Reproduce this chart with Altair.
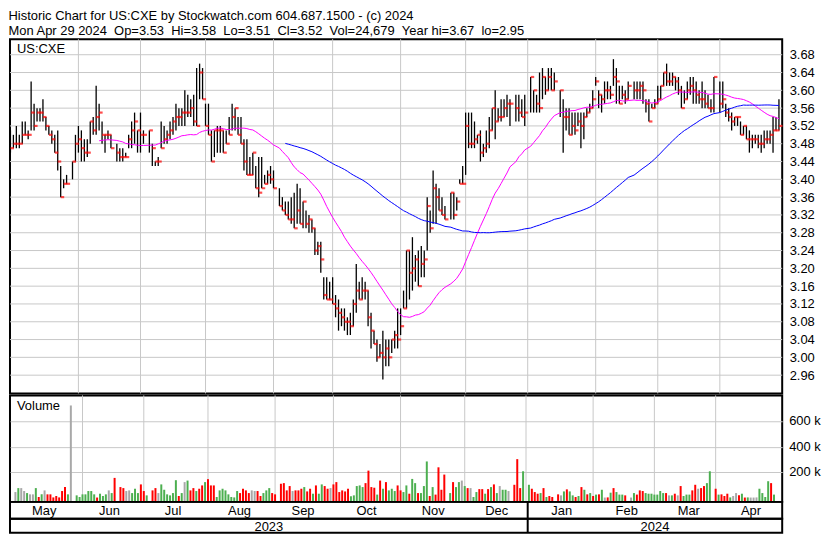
import altair as alt
import pandas as pd

# ---------------- data ----------------
HOLIDAYS = ["2023-05-29", "2023-06-19", "2023-07-04", "2023-09-04", "2023-11-23",
            "2023-12-25", "2024-01-01", "2024-01-15", "2024-02-19", "2024-03-29"]

may_hi = [3.51,3.50,3.52,3.50,3.53,3.53,3.51,3.62,3.57,3.56,3.56,3.58,3.54,3.52,3.51,3.50,3.51,3.43,3.40,3.41,3.44,3.50]
may_lo = [3.46,3.47,3.47,3.47,3.48,3.50,3.49,3.51,3.51,3.53,3.53,3.53,3.51,3.50,3.48,3.46,3.42,3.36,3.38,3.39,3.40,3.44]
may_cl = [3.47,3.48,3.48,3.48,3.50,3.50,3.50,3.55,3.52,3.55,3.55,3.54,3.52,3.50,3.49,3.46,3.44,3.36,3.39,3.39,3.44,3.48]
may_vol = [45,76,76,53,37,27,27,76,6,27,58,27,27,3,14,3,53,84,27,724,19,6]

jun_hi = [3.52,3.51,3.49,3.49,3.53,3.54,3.61,3.57,3.53,3.50,3.51,3.50,3.48,3.47,3.47,3.46,3.50,3.53,3.55,3.51,3.55]
jun_lo = [3.46,3.44,3.44,3.45,3.48,3.50,3.50,3.51,3.48,3.46,3.49,3.47,3.44,3.44,3.44,3.45,3.47,3.47,3.48,3.46,3.46]
jun_cl = [3.49,3.47,3.46,3.46,3.53,3.51,3.54,3.55,3.50,3.50,3.50,3.47,3.46,3.45,3.45,3.45,3.49,3.51,3.53,3.51,3.50]
jun_vol = [27,27,53,53,27,2,32,14,27,58,37,156,84,76,53,58,37,71,37,105,53]

jul_hi = [3.51,3.51,3.48,3.44,3.45,3.53,3.52,3.51,3.53,3.54,3.57,3.56,3.56,3.60,3.59,3.58,3.59,3.65,3.66,3.65]
jul_lo = [3.48,3.46,3.43,3.43,3.43,3.47,3.48,3.48,3.49,3.50,3.51,3.52,3.52,3.52,3.54,3.54,3.52,3.52,3.58,3.58]
jul_cl = [3.50,3.51,3.47,3.44,3.44,3.47,3.49,3.50,3.51,3.53,3.54,3.54,3.55,3.55,3.55,3.56,3.53,3.52,3.64,3.58]
jul_vol = [19,58,76,37,105,63,27,19,37,138,14,37,123,135,58,76,53,71,97,123]

aug_hi = [3.57,3.57,3.51,3.51,3.52,3.52,3.51,3.51,3.54,3.57,3.56,3.54,3.54,3.49,3.49,3.45,3.46,3.43,3.45,3.45,3.41,3.42,3.43]
aug_lo = [3.52,3.50,3.44,3.45,3.46,3.46,3.46,3.48,3.50,3.51,3.51,3.50,3.48,3.42,3.41,3.41,3.41,3.38,3.36,3.38,3.39,3.39,3.39]
aug_cl = [3.52,3.50,3.44,3.51,3.51,3.51,3.46,3.48,3.50,3.54,3.56,3.50,3.48,3.44,3.41,3.41,3.46,3.38,3.37,3.38,3.39,3.41,3.40]
aug_vol = [146,97,97,6,58,71,58,27,6,3,53,37,71,58,37,58,53,53,14,37,58,76,37]

sep_hi = [3.42,3.38,3.36,3.35,3.35,3.36,3.37,3.39,3.38,3.35,3.33,3.32,3.31,3.29,3.26,3.26,3.18,3.18,3.17,3.18]
sep_lo = [3.38,3.34,3.33,3.32,3.31,3.30,3.29,3.30,3.30,3.29,3.29,3.28,3.28,3.23,3.23,3.19,3.13,3.13,3.13,3.12]
sep_cl = [3.38,3.34,3.33,3.32,3.31,3.31,3.29,3.33,3.30,3.35,3.30,3.31,3.29,3.24,3.25,3.22,3.14,3.13,3.13,3.12]
sep_vol = [27,110,115,58,92,53,58,58,71,84,50,71,32,97,32,105,92,71,76,105]

oct_hi = [3.14,3.13,3.11,3.11,3.09,3.10,3.13,3.21,3.17,3.18,3.17,3.15,3.10,3.06,3.04,3.03,3.06,3.04,3.04,3.04,3.06,3.11]
oct_lo = [3.09,3.06,3.07,3.06,3.05,3.05,3.07,3.10,3.13,3.13,3.13,3.07,3.02,3.03,2.99,3.00,2.95,2.98,2.98,3.01,3.02,3.02]
oct_cl = [3.11,3.10,3.09,3.08,3.08,3.07,3.12,3.15,3.13,3.15,3.15,3.09,3.06,3.03,3.00,3.01,3.00,3.02,3.00,3.04,3.05,3.04]
oct_vol = [123,45,58,50,71,12,19,92,97,84,115,213,84,79,25,135,71,123,58,71,53,97]

nov_hi = [3.11,3.15,3.24,3.24,3.27,3.23,3.24,3.25,3.24,3.36,3.33,3.42,3.39,3.38,3.36,3.34,3.37,3.37,3.36,3.40,3.43]
nov_lo = [3.05,3.11,3.11,3.13,3.15,3.17,3.16,3.18,3.18,3.24,3.28,3.30,3.30,3.33,3.32,3.31,3.31,3.31,3.33,3.39,3.39]
nov_cl = [3.07,3.11,3.24,3.19,3.20,3.22,3.16,3.21,3.22,3.34,3.29,3.38,3.36,3.33,3.32,3.31,3.37,3.32,3.35,3.39,3.39]
nov_vol = [58,45,97,32,148,115,37,37,92,285,14,84,25,239,63,182,37,123,84,123,135]

dec_hi = [3.55,3.55,3.55,3.53,3.50,3.51,3.48,3.51,3.54,3.56,3.60,3.56,3.58,3.58,3.59,3.58,3.59,3.59,3.58,3.59]
dec_lo = [3.41,3.47,3.47,3.47,3.48,3.44,3.45,3.46,3.47,3.51,3.49,3.53,3.53,3.54,3.54,3.52,3.53,3.53,3.54,3.52]
dec_cl = [3.52,3.48,3.48,3.49,3.50,3.46,3.47,3.48,3.51,3.56,3.53,3.54,3.54,3.56,3.57,3.57,3.56,3.55,3.54,3.55]
dec_vol = [92,76,76,6,45,68,68,32,68,84,105,37,92,63,63,53,102,303,76,208]

jan_hi = [3.63,3.60,3.59,3.64,3.65,3.63,3.65,3.65,3.64,3.60,3.58,3.56,3.56,3.55,3.55,3.55,3.55,3.55,3.56,3.57,3.60]
jan_lo = [3.55,3.55,3.55,3.55,3.58,3.59,3.60,3.60,3.60,3.54,3.46,3.51,3.50,3.50,3.50,3.52,3.47,3.49,3.54,3.55,3.56]
jan_cl = [3.63,3.60,3.57,3.56,3.63,3.60,3.63,3.60,3.62,3.60,3.54,3.54,3.50,3.52,3.51,3.53,3.52,3.54,3.55,3.56,3.58]
jan_vol = [102,71,45,32,37,76,6,14,6,27,19,50,66,50,19,6,14,84,63,27,37]

feb_hi = [3.63,3.60,3.59,3.62,3.62,3.61,3.67,3.65,3.61,3.61,3.60,3.62,3.62,3.62,3.62,3.62,3.58,3.58,3.57,3.58]
feb_lo = [3.61,3.56,3.55,3.57,3.58,3.58,3.61,3.57,3.57,3.58,3.57,3.58,3.58,3.58,3.58,3.57,3.55,3.53,3.56,3.56]
feb_cl = [3.62,3.59,3.58,3.60,3.60,3.59,3.63,3.62,3.57,3.59,3.58,3.61,3.60,3.60,3.61,3.60,3.57,3.53,3.56,3.57]
feb_vol = [14,25,27,63,2,3,40,76,45,25,25,19,2,37,25,58,53,37,32,32]

mar_hi = [3.61,3.61,3.64,3.66,3.64,3.64,3.63,3.63,3.61,3.60,3.62,3.63,3.63,3.62,3.60,3.62,3.60,3.59,3.58,3.63]
mar_lo = [3.57,3.58,3.61,3.61,3.61,3.61,3.60,3.59,3.56,3.57,3.58,3.59,3.57,3.57,3.57,3.56,3.56,3.56,3.55,3.55]
mar_cl = [3.58,3.61,3.64,3.62,3.62,3.63,3.62,3.60,3.56,3.58,3.60,3.61,3.60,3.59,3.58,3.58,3.57,3.56,3.56,3.63]
mar_vol = [25,25,53,37,37,19,19,32,19,92,14,25,25,58,102,71,76,92,115,208]

apr_hi = [3.62,3.62,3.57,3.56,3.55,3.54,3.54,3.53,3.52,3.52,3.51,3.50,3.50,3.50,3.50,3.51,3.51,3.51,3.54,3.54,3.58]
apr_lo = [3.55,3.56,3.54,3.53,3.51,3.52,3.52,3.50,3.50,3.49,3.46,3.47,3.48,3.47,3.46,3.47,3.48,3.48,3.46,3.51,3.51]
apr_cl = [3.57,3.58,3.55,3.54,3.53,3.54,3.54,3.50,3.52,3.49,3.49,3.49,3.49,3.48,3.48,3.49,3.49,3.50,3.51,3.51,3.52]
apr_vol = [71,25,27,14,32,3,14,37,19,32,2,3,2,2,3,71,37,6,130,115,25]

# day direction shown by the volume colour: u = up, d = down, n = unchanged
DIRECTION_BY_MONTH = [
    "nunnunnudundddddddunuu",
    "uuuuuduuunudddnnuuudd",
    "uddnuuuuuudunudduddu",
    "ddduuuuuuuuddddnndduuud",
    "dddddndddudduduuddnd",
    "ddddduuuuuddddududuuud",
    "duuduuduuududdddudu" + "un",
    "udnuuddududunuundddu",
    "udddududddnuduududud" + "u",
    "dudunduduuudnuddduuu",
    "uuuudnudnduuuddndduu",
    "dudddunndudunnnuuuudu",
]

PRICE_TICKS = [2.96, 3.00, 3.04, 3.08, 3.12, 3.16, 3.20, 3.24, 3.28, 3.32,
               3.36, 3.40, 3.44, 3.48, 3.52, 3.56, 3.60, 3.64, 3.68]
VOL_TICKS = [200000, 400000, 600000]
VOL_LABELS = ["200 k", "400 k", "600 k"]
MONTH_NAMES = ["May", "Jun", "Jul", "Aug", "Sep", "Oct", "Nov", "Dec", "Jan", "Feb", "Mar", "Apr"]
YEAR_NAMES = ["2023", "2024"]

TITLE1 = "Historic Chart for US:CXE by Stockwatch.com 604.687.1500 - (c) 2024"
TITLE2 = ("Mon Apr 29 2024\u00a0\u00a0Op=3.53\u00a0\u00a0Hi=3.58\u00a0\u00a0Lo=3.51\u00a0\u00a0"
          "Cl=3.52\u00a0\u00a0Vol=24,679\u00a0\u00a0Year hi=3.67\u00a0\u00a0lo=2.95")

# ---------------- build tables ----------------
hi = may_hi + jun_hi + jul_hi + aug_hi + sep_hi + oct_hi + nov_hi + dec_hi + jan_hi + feb_hi + mar_hi + apr_hi
lo = may_lo + jun_lo + jul_lo + aug_lo + sep_lo + oct_lo + nov_lo + dec_lo + jan_lo + feb_lo + mar_lo + apr_lo
cl = may_cl + jun_cl + jul_cl + aug_cl + sep_cl + oct_cl + nov_cl + dec_cl + jan_cl + feb_cl + mar_cl + apr_cl
vol = may_vol + jun_vol + jul_vol + aug_vol + sep_vol + oct_vol + nov_vol + dec_vol + jan_vol + feb_vol + mar_vol + apr_vol
direction = list("".join(DIRECTION_BY_MONTH))

weekdays = pd.bdate_range("2023-05-01", "2024-04-29")
hol = set(pd.to_datetime(HOLIDAYS))
trading = [d for d in weekdays if d not in hol]
slot_of = {d: i for i, d in enumerate(weekdays)}

n = min(len(trading), len(hi), len(lo), len(cl), len(vol))
direction = (direction + ["n"] * n)[:n]
df = pd.DataFrame({
    "slot": [slot_of[d] for d in trading[:n]],
    "hi": hi[:n], "lo": lo[:n], "cl": cl[:n],
    "vol": [v * 1000 for v in vol[:n]],
    "dir": direction,
})

X0, X1 = -0.15, 261.1
month_starts = pd.date_range("2023-06-01", "2024-04-01", freq="MS")
grid_slots = [int((weekdays <= m).sum()) - 1 for m in month_starts]
grid_df = pd.DataFrame({"slot": grid_slots})
bounds = [X0] + grid_slots + [X1]
month_df = pd.DataFrame({"name": MONTH_NAMES,
                         "mid": [(a + b) / 2 for a, b in zip(bounds[:-1], bounds[1:])]})
jan_slot = grid_slots[7]
year_df = pd.DataFrame({"name": YEAR_NAMES, "mid": [(X0 + jan_slot) / 2, (jan_slot + X1) / 2]})
yearline_df = pd.DataFrame({"slot": [jan_slot]})
ptick_df = pd.DataFrame({"p": PRICE_TICKS})
vtick_df = pd.DataFrame({"v": VOL_TICKS, "label": VOL_LABELS})

# ---------------- chart ----------------
W = 776
PH, VH, MH, YH = 356, 107, 17, 14
FONT = "Liberation Sans"
GRID = "#c8c8c8"

xs = alt.Scale(domain=[X0, X1], nice=False, zero=False)
ys = alt.Scale(domain=[2.919, 3.715], nice=False, zero=False)
vs = alt.Scale(domain=[-32000, 803000], nice=False, zero=False)
X = alt.X("slot:Q", scale=xs, axis=None)
PAX = alt.Axis(orient="right", values=PRICE_TICKS, format=".2f", grid=False, labelOverlap=False,
               domain=False, ticks=False, labelPadding=7, title=None)
VAX = alt.Axis(orient="right", values=VOL_TICKS, labels=False, grid=True, gridColor=GRID,
               gridOpacity=1, domain=False, ticks=False, title=None)

month_rules = alt.Chart(grid_df).mark_rule(color=GRID, strokeWidth=1).encode(x=X)
price_grid = alt.Chart(ptick_df).mark_rule(color=GRID, strokeWidth=1).encode(
    y=alt.Y("p:Q", scale=ys, axis=PAX))

base = alt.Chart(df)
hl = base.mark_rule(color="black", strokeWidth=1.3).encode(
    x=X, y=alt.Y("lo:Q", scale=ys, axis=PAX), y2="hi:Q")
closes = base.mark_tick(orient="horizontal", color="#ff0000", size=3.5, thickness=2.2, xOffset=1.8).encode(
    x=X, y=alt.Y("cl:Q", scale=ys, axis=PAX))
ma30 = base.transform_window(ma="mean(cl)", cnt="count()", frame=[-29, 0],
                             sort=[alt.SortField("slot")]).transform_filter(
    "datum.cnt >= 30").mark_line(color="#ff00ff", strokeWidth=1).encode(
    x=X, y=alt.Y("ma:Q", scale=ys, axis=PAX))
ma90 = base.transform_window(ma="mean(cl)", cnt="count()", frame=[-89, 0],
                             sort=[alt.SortField("slot")]).transform_filter(
    "datum.cnt >= 90").mark_line(color="#0000ff", strokeWidth=1).encode(
    x=X, y=alt.Y("ma:Q", scale=ys, axis=PAX))
sym = alt.Chart(pd.DataFrame({"t": ["US:CXE"]})).mark_text(
    align="left", baseline="middle", fontSize=13, font=FONT, color="black").encode(
    x=alt.value(7), y=alt.value(10), text="t:N")

price = alt.layer(price_grid, month_rules, hl, closes, ma30, ma90, sym).properties(width=W, height=PH)

# volume panel: grid lines come from the bar layer's axis, labels from a text layer
vbars = base.mark_bar(width=2).encode(
    x=X,
    y=alt.Y("vol:Q", scale=vs, axis=VAX, stack=None),
    y2=alt.value(VH),
    color=alt.Color("dir:N", legend=None,
                    scale=alt.Scale(domain=["u", "d", "n"], range=["#4caf50", "#ff0000", "#a8a8a8"])),
)
vol_labels = alt.Chart(vtick_df).mark_text(
    align="left", baseline="middle", fontSize=13, font=FONT, color="black").encode(
    x=alt.value(W + 7), y=alt.Y("v:Q", scale=vs, axis=VAX), text="label:N")
vlabel = alt.Chart(pd.DataFrame({"t": ["Volume"]})).mark_text(
    align="left", baseline="middle", fontSize=13, font=FONT, color="black").encode(
    x=alt.value(7), y=alt.value(11), text="t:N")
volume = alt.layer(month_rules, vbars, vlabel, vol_labels).properties(width=W, height=VH)

mtext = alt.Chart(month_df).mark_text(fontSize=13, font=FONT, baseline="middle", color="black").encode(
    x=alt.X("mid:Q", scale=xs, axis=None), y=alt.value(MH / 2 + 1), text="name:N")
yline = alt.Chart(yearline_df).mark_rule(color="black", strokeWidth=2).encode(x=X)
months = alt.layer(mtext, yline).properties(width=W, height=MH)

ytext = alt.Chart(year_df).mark_text(fontSize=13, font=FONT, baseline="middle", color="black").encode(
    x=alt.X("mid:Q", scale=xs, axis=None), y=alt.value(YH / 2 + 1), text="name:N")
years = alt.layer(ytext, yline).properties(width=W, height=YH)

chart = alt.vconcat(
    price,
    alt.vconcat(volume, months, years, spacing=0, bounds="flush"),
    spacing=2, bounds="flush",
).properties(
    padding=0,
    title=alt.TitleParams(text=[TITLE1, TITLE2], anchor="start", fontSize=13, font=FONT,
                          fontWeight="normal", color="black", lineHeight=15, offset=0),
).configure(font=FONT).configure_view(
    stroke="black", strokeWidth=2
).configure_axis(
    labelFont=FONT, labelFontSize=13, labelColor="black"
)

chart.save("out.html", embed_options={"renderer": "svg", "actions": False})
